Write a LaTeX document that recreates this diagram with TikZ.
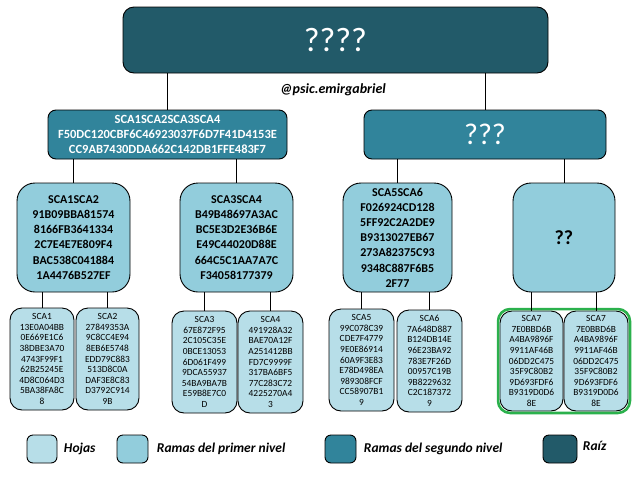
\documentclass[tikz,border=0pt]{standalone}
\usepackage{fontspec}
\setmainfont{Carlito}
\usepackage{tikz}
\usetikzlibrary{positioning,fit}
\usepackage{xcolor}
\definecolor{raizcol}{HTML}{225A69}
\definecolor{rama2col}{HTML}{31849B}
\definecolor{rama1col}{HTML}{92CDDC}
\definecolor{hojacol}{HTML}{B7DEE8}
\definecolor{verde}{HTML}{2BB14C}

\begin{document}
\begin{tikzpicture}[x=1pt,y=-1pt,
        caja/.style={
            draw=black,
            line width=0.9pt,
            align=center,
            inner sep=0pt
        },
        raiz/.style={caja, fill=raizcol, rounded corners=11pt, text=white,
            font=\fontsize{34}{40}\selectfont},
        rama2/.style={caja, fill=rama2col, rounded corners=8pt, minimum height=49pt,
            text=white, font=\bfseries\fontsize{12.5}{15}\selectfont},
        rama1/.style={caja, fill=rama1col, rounded corners=18pt, minimum height=109pt,
            font=\bfseries\fontsize{12}{15.2}\selectfont},
        hoja/.style={caja, fill=hojacol, rounded corners=12pt, minimum height=102pt,
            font=\fontsize{9.4}{10.6}\selectfont},
        muestra/.style={caja, rounded corners=6pt, minimum width=30pt, minimum height=28pt},
        etiqueta/.style={anchor=west, font=\bfseries\itshape\fontsize{13.5}{15}\selectfont},
        linea/.style={line width=0.9pt}
    ]
    \useasboundingbox (0,0) rectangle (640,480);

    % Raiz
    \node[raiz, minimum width=425pt, minimum height=66pt] (raiz) at (335.5,40) {????};
    \node[font=\bfseries\itshape\fontsize{14}{16}\selectfont] (autor) at (333,90) {@psic.emirgabriel};

    % Ramas del segundo nivel
    \node[rama2, minimum width=239pt] (r2a) at (167.5,134.5)
        {SCA1SCA2SCA3SCA4\\F50DC120CBF6C46923037F6D7F41D4153E\\CC9AB7430DDA662C142DB1FFE483F7};
    \node[rama2, minimum width=242pt, font=\fontsize{30}{34}\selectfont] (r2b) at (485,134.5) {???};

    % Ramas del primer nivel
    \node[rama1, minimum width=113pt] (r1a) at (73.5,237.5)
        {SCA1SCA2\\91B09BBA81574\\8166FB3641334\\2C7E4E7E809F4\\BAC538C041884\\1A4476B527EF};
    \node[rama1, minimum width=113pt] (r1b) at (236.5,237.5)
        {SCA3SCA4\\B49B48697A3AC\\BC5E3D2E36B6E\\E49C44020D88E\\664C5C1AA7A7C\\F34058177379};
    \node[rama1, minimum width=109pt] (r1c) at (397.5,237.5)
        {SCA5SCA6\\F026924CD128\\5FF92C2A2DE9\\B9313027EB67\\273A82375C93\\9348C887F6B5\\2F77};
    \node[rama1, minimum width=102pt, font=\bfseries\fontsize{20}{24}\selectfont] (r1d) at (564,237.5) {??};

    % Hojas
    \node[hoja, minimum width=64pt] (h1) at (42,359)
        {SCA1\\13E0A04BB\\0E669E1C6\\38DBE3A70\\4743F99F1\\62B25245E\\4D8C064D3\\5BA38FA8C\\8};
    \node[hoja, minimum width=63pt] (h2) at (107.5,359)
        {SCA2\\27849353A\\9C8CC4E94\\8EB6E5748\\EDD79C883\\513D8C0A\\DAF3E8C83\\D3792C914\\9B};
    \node[hoja, minimum width=65pt] (h3) at (204.5,362)
        {SCA3\\67E872F95\\2C105C35E\\0BCE13053\\6D061F499\\9DCA55937\\54BA9BA7B\\E59B8E7C0\\D};
    \node[hoja, minimum width=65pt] (h4) at (270.5,362)
        {SCA4\\491928A32\\BAE70A12F\\A251412BB\\FD7C9999F\\317BA6BF5\\77C283C72\\4225270A4\\3};
    \node[hoja, minimum width=65pt] (h5) at (361.5,360)
        {SCA5\\99C078C39\\CDE7F4779\\9E0E86914\\60A9F3E83\\E78D498EA\\989308FCF\\CC58907B1\\9};
    \node[hoja, minimum width=65pt] (h6) at (429.5,361)
        {SCA6\\7A648D887\\B124DB14E\\96E23BA92\\783E7F26D\\00957C19B\\9B8229632\\C2C187372\\9};
    \node[hoja, minimum width=63pt, minimum height=100pt] (h7) at (531.5,361)
        {SCA7\\7E0BBD6B\\A4BA9896F\\9911AF46B\\06DD2C475\\35F9C80B2\\9D693FDF6\\B9319D0D6\\8E};
    \node[hoja, minimum width=64pt, minimum height=100pt] (h8) at (596,361)
        {SCA7\\7E0BBD6B\\A4BA9896F\\9911AF46B\\06DD2C475\\35F9C80B2\\9D693FDF6\\B9319D0D6\\8E};
    \node[draw=verde, line width=2.6pt, rounded corners=12pt, inner sep=1.5pt, fit=(h7)(h8)] (par) {};

    % Conexiones
    \draw[linea] (r2a.north) -- (r2a.north |- raiz.south);
    \draw[linea] (r2b.north) -- (r2b.north |- raiz.south);
    \foreach \n/\p in {r1a/r2a, r1b/r2a, r1c/r2b, r1d/r2b}
        \draw[linea] (\n.north) -- (\n.north |- \p.south);
    \foreach \n/\p in {h1/r1a, h2/r1a, h3/r1b, h4/r1b, h5/r1c, h6/r1c, h7/r1d, h8/r1d}
        \draw[linea] (\n.north) -- (\n.north |- \p.south);

    % Leyenda
    \node[muestra, fill=hojacol] (l1) at (42,449) {};
    \node[etiqueta, right=3pt of l1] (t1) {Hojas};
    \node[muestra, fill=rama1col, minimum width=31pt] (l2) at (132.5,449) {};
    \node[etiqueta, right=5pt of l2] (t2) {Ramas del primer nivel};
    \node[muestra, fill=rama2col, minimum width=31pt] (l3) at (340.5,449) {};
    \node[etiqueta, right=4pt of l3] (t3) {Ramas del segundo nivel};
    \node[muestra, fill=raizcol, minimum width=34pt] (l4) at (560,449) {};
    \node[etiqueta, right=2pt of l4, yshift=3pt] (t4) {Raíz};

\end{tikzpicture}
\end{document}
